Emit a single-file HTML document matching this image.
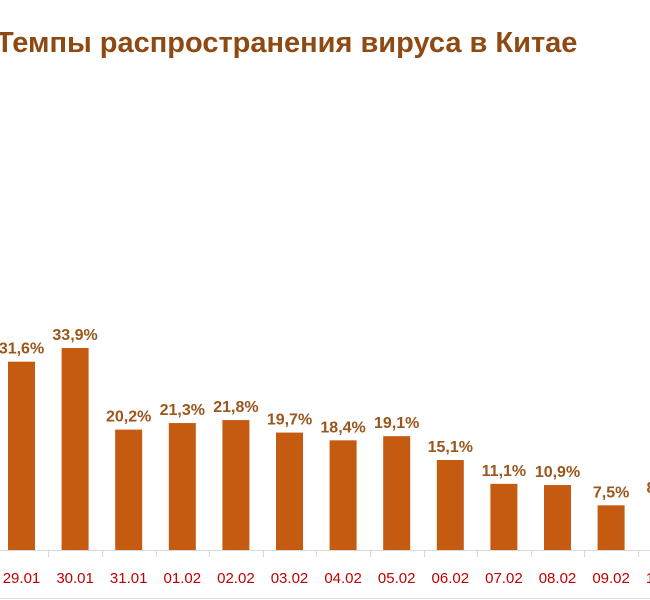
<!DOCTYPE html>
<html><head><meta charset="utf-8"><style>
body{margin:0;background:#fff;}
svg{display:block;font-family:"Liberation Sans",sans-serif;}
</style></head><body>
<svg width="650" height="600" id="c">
<rect x="0" y="0" width="650" height="600" fill="#fff"/>
<line x1="0" y1="598.5" x2="650" y2="598.5" stroke="#d9d9d9"/>
<text x="-4" y="52" font-size="29" font-weight="bold" fill="#8e4a12">Темпы распространения вируса в Китае</text>
<line x1="0" y1="550.5" x2="650" y2="550.5" stroke="#d9d9d9"/>
<g id="bars"></g>
</svg>
<script>
const categories=["29.01","30.01","31.01","01.02","02.02","03.02","04.02","05.02","06.02","07.02","08.02","09.02","10.02"];
const values=[31.6,33.9,20.2,21.3,21.8,19.7,18.4,19.1,15.1,11.1,10.9,7.5,8.2];
const labels=["31,6%","33,9%","20,2%","21,3%","21,8%","19,7%","18,4%","19,1%","15,1%","11,1%","10,9%","7,5%","8,2%"];
const x0=21.5, step=53.6, base=550, pxPer=5.96, bw=27;
function xs(i){return x0+i*step;}
function ys(v){return base-v*pxPer;}
const g=document.getElementById('bars');
const NS="http://www.w3.org/2000/svg";
categories.forEach((c,i)=>{
  const cx=xs(i);
  const r=document.createElementNS(NS,'rect');
  r.setAttribute('x',cx-bw/2);r.setAttribute('y',ys(values[i]));
  r.setAttribute('width',bw);r.setAttribute('height',base-ys(values[i]));
  r.setAttribute('fill','#c55a11');
  
  
  g.appendChild(r);
  const t=document.createElementNS(NS,'text');
  t.setAttribute('x',cx);t.setAttribute('y',ys(values[i])-8);
  t.setAttribute('text-anchor','middle');t.setAttribute('font-size','16');
  t.setAttribute('font-weight','bold');t.setAttribute('fill','#9a561c');
  t.textContent=labels[i];
  
  
  g.appendChild(t);
  const xl=document.createElementNS(NS,'text');
  xl.setAttribute('x',cx);xl.setAttribute('y',583);
  xl.setAttribute('text-anchor','middle');xl.setAttribute('font-size','15');
  xl.setAttribute('fill','#c00000');
  xl.textContent=c;
  
  
  g.appendChild(xl);
  const tk=document.createElementNS(NS,'line');
  const tx=Math.round(cx+step/2)+0.5;
  tk.setAttribute('x1',tx);tk.setAttribute('x2',tx);
  tk.setAttribute('y1',550);tk.setAttribute('y2',557);
  tk.setAttribute('stroke','#d9d9d9');
  
  
  g.appendChild(tk);
});
</script>
</body></html>
